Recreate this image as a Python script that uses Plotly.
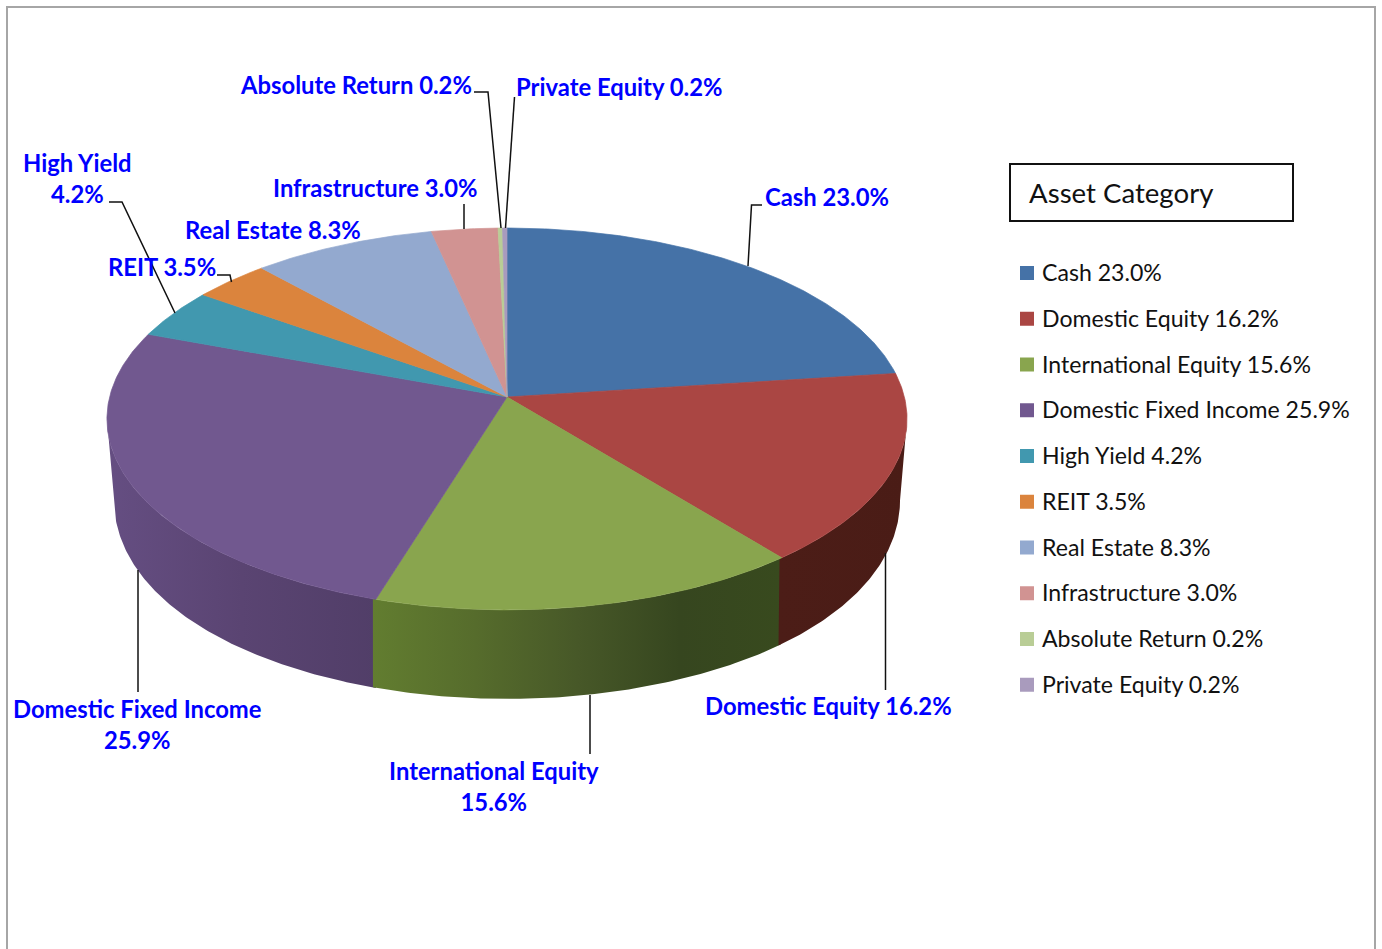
import numpy as np
import plotly.graph_objects as go

# ---- data ----
categories = ["Cash", "Domestic Equity", "International Equity", "Domestic Fixed Income",
              "High Yield", "REIT", "Real Estate", "Infrastructure", "Absolute Return", "Private Equity"]
values = [23.0, 16.2, 15.6, 25.9, 4.2, 3.5, 8.3, 3.0, 0.2, 0.2]
colors = ["#4572a7", "#aa4643", "#89a54e", "#71588f", "#4198af", "#db843d",
          "#93a9cf", "#d19392", "#b9cd96", "#a99bbd"]
legend_title = "Asset Category"

# wall shading, left to right, for the slices whose side is visible
wall_shades = {
    "Domestic Equity": ["#4c1d17", "#4a1c16"],
    "International Equity": ["#627d30", "#566c2c", "#475828", "#36461f", "#384a1e"],
    "Domestic Fixed Income": ["#654e82", "#5a4472", "#513e68"],
}

# ---- view geometry (canvas-sized axes) ----
W, H = 1382, 949
APEX_X, APEX_Y = 507, 397
PERSP = 0.115
AX, BY = 397.4, 188.4
RIM_TOP = (419, 191, 400)
RIM_BOT = (500, 199, 393)
LABEL_FONT = "Lato"
LABEL_SIZE = 23.8
LEGEND_SIZE = 23.1
TITLE_SIZE = 27.6


def project(theta):
    w = 1 + PERSP * np.cos(theta)
    return APEX_X + AX * np.sin(theta) / w, APEX_Y - BY * np.cos(theta) / w


def drop(x, y):
    ratio = (x - APEX_X) / RIM_TOP[2]
    inset = (RIM_TOP[2] - RIM_BOT[2]) * np.sign(ratio) * np.abs(ratio) ** 5
    return (x - inset, RIM_BOT[0] + (y - RIM_TOP[0]) * RIM_BOT[1] / RIM_TOP[1])


def arc(a, b):
    n = max(3, int(abs(b - a) / np.radians(0.5)))
    return np.linspace(a, b, n)


fracs = np.array(values) / sum(values)
edges = np.concatenate([[0], np.cumsum(fracs)]) * 2 * np.pi
t_right = np.arccos(-PERSP)
t_left = 2 * np.pi - t_right

fig = go.Figure()

# side walls, each tucked slightly under the previous one to avoid seams
for i in reversed(range(len(categories))):
    cat = categories[i]
    if cat not in wall_shades:
        continue
    a, b = max(edges[i], t_right), min(edges[i + 1] + np.radians(0.4), t_left)
    x, y = project(arc(a, b))
    xb, yb = drop(x, y)
    shades = wall_shades[cat]
    scale = [[k / (len(shades) - 1), c] for k, c in enumerate(shades)]
    fig.add_trace(go.Scatter(
        x=np.concatenate([x, xb[::-1]]), y=np.concatenate([y, yb[::-1]]),
        mode="lines", line=dict(width=0), fill="toself",
        fillgradient=dict(type="horizontal", colorscale=scale),
        hoverinfo="skip", showlegend=False))

# top face
for i, cat in enumerate(categories):
    x, y = project(arc(edges[i], edges[i + 1]))
    fig.add_trace(go.Scatter(
        x=np.concatenate([[APEX_X], x, [APEX_X]]), y=np.concatenate([[APEX_Y], y, [APEX_Y]]),
        mode="lines", line=dict(width=0.7, color=colors[i]), fill="toself", fillcolor=colors[i],
        name=cat, text=f"{cat} {values[i]:.1f}%", hoverinfo="text", hoveron="fills", showlegend=False))

# leader lines
leaders = [
    ([474, 488, 501], [92, 92, 228]),
    ([514.5, 505.5], [97, 228]),
    ([762, 751.5, 748], [205, 205, 266]),
    ([464, 464], [204, 229]),
    ([109, 122, 175], [202, 202, 313]),
    ([217, 230, 231.5], [275, 275, 282]),
    ([138, 138], [570, 692]),
    ([590, 590], [695, 754]),
    ([885.5, 885.5], [553, 690]),
]
for lx, ly in leaders:
    fig.add_trace(go.Scatter(x=lx, y=ly, mode="lines", line=dict(color="#111111", width=1.5),
                             hoverinfo="skip", showlegend=False))

# data labels: (category index, x, y of first line, broken?)
label_place = [
    (0, 827, 197, False),
    (1, 828.5, 706, False),
    (2, 494, 771, True),
    (3, 137, 709, True),
    (4, 77, 163, True),
    (5, 162, 267, False),
    (6, 272.5, 230, False),
    (7, 375, 188, False),
    (8, 356, 85, False),
    (9, 619, 87, False),
]
annotations = []
for i, x, y, broken in label_place:
    sep = "<br>" if broken else " "
    annotations.append(dict(
        x=x, y=y, xref="x", yref="y", xanchor="center", yanchor="middle" if not broken else "top",
        yshift=16 if broken else 0,
        text=f"<b>{categories[i]}{sep}{values[i]:.1f}%</b>", showarrow=False, align="center",
        font=dict(family=LABEL_FONT, size=LABEL_SIZE, color="#0000ff")))

# legend
LEG_X, LEG_Y0, LEG_STEP = 1027, 273, 45.75
leg_y = [LEG_Y0 + k * LEG_STEP for k in range(len(categories))]
fig.add_trace(go.Scatter(x=[LEG_X] * len(categories), y=leg_y, mode="markers",
                         marker=dict(symbol="square", size=14, color=colors, line=dict(width=0)),
                         hoverinfo="skip", showlegend=False))
for k, cat in enumerate(categories):
    annotations.append(dict(
        x=1039.5, y=leg_y[k] - 1, xref="x", yref="y", xanchor="left", yanchor="middle",
        text=f"{cat} {values[k]:.1f}%", showarrow=False,
        font=dict(family=LABEL_FONT, size=LEGEND_SIZE, color="#111111")))
annotations.append(dict(
    x=1027, y=192, xref="x", yref="y", xanchor="left", yanchor="middle",
    text=legend_title, showarrow=False,
    font=dict(family=LABEL_FONT, size=TITLE_SIZE, color="#111111")))

shapes = [
    dict(type="rect", xref="x", yref="y", x0=1010, y0=164, x1=1293, y1=221,
         line=dict(color="#111111", width=2), fillcolor="rgba(0,0,0,0)"),
    dict(type="rect", xref="x", yref="y", x0=7, y0=7, x1=1375, y1=990,
         line=dict(color="#a6a6a6", width=2), fillcolor="rgba(0,0,0,0)"),
]

fig.update_layout(
    width=W, height=H, margin=dict(l=0, r=0, t=0, b=0),
    paper_bgcolor="white", plot_bgcolor="white", showlegend=False,
    xaxis=dict(range=[0, W], visible=False, fixedrange=True),
    yaxis=dict(range=[H, 0], visible=False, fixedrange=True),
    annotations=annotations, shapes=shapes,
)
fig.write_html("out.html", config=dict(displayModeBar=False),
               post_script="document.body.style.margin='0';document.documentElement.style.overflow='hidden';")
